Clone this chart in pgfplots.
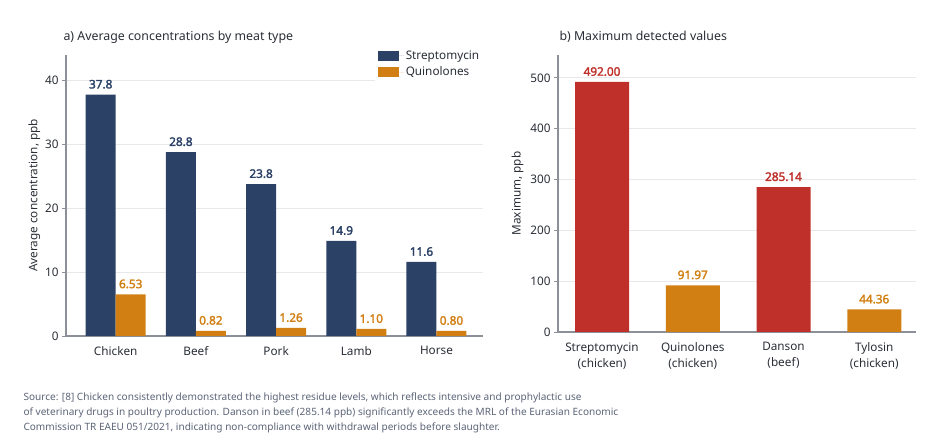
\documentclass[border=0pt]{standalone}
\usepackage{pgfplots}
\pgfplotsset{compat=1.18}
\usepackage{fontspec}
\setmainfont{Noto Sans}[AutoFakeBold=2.2]
\definecolor{navy}{HTML}{2B4166}
\definecolor{qorange}{HTML}{D17F12}
\definecolor{sred}{HTML}{C0302A}
\definecolor{spine}{HTML}{8C9099}
\definecolor{gridc}{HTML}{E8E8EA}
\definecolor{txt}{HTML}{2A2E36}
\definecolor{src}{HTML}{5B6477}
\pgfplotsset{
  mystyle/.style={
    scale only axis,
    axis x line*=bottom, axis y line*=left,
    axis line style={spine, line width=1.1bp, -},
    ymin=0,
    ymajorgrids, grid style={gridc, line width=0.8bp},
    major x tick style={draw=none},
    major y tick style={spine, line width=0.8bp},
    tick align=outside,
    major tick length=4bp,
    tick label style={font=\fontsize{11.8}{16}\selectfont, text=txt},
    xticklabel style={yshift=-3bp},
    /pgf/number format/assume math mode=true,
    ylabel style={font=\fontsize{11.8}{13}\selectfont, text=txt},
    xtick=data,
  },
  mylabels/.style 2 args={
    nodes near coords={\textbf{\pgfmathprintnumber[fixed,precision=#1,fixed zerofill]{\pgfplotspointmeta}}},
    every node near coord/.append style={text=#2, font=\fontsize{11.8}{13}\selectfont\bfseries, yshift=2.5bp},
  },
  mylegimg/.style={legend image code/.code={\fill[##1] (0bp,-5bp) rectangle (21bp,5bp); \path (0bp,0bp) -- (26bp,0bp);}},
}
\begin{document}
\begin{tikzpicture}
\useasboundingbox (0,0) rectangle (936bp,444bp);
\node[anchor=west, font=\fontsize{12.4}{14}\selectfont, text=txt] at (60bp,407bp) {a) Average concentrations by meat type};
\node[anchor=west, font=\fontsize{12.4}{14}\selectfont, text=txt] at (556bp,407bp) {b) Maximum detected values};
\begin{axis}[mystyle,
  at={(66bp,108bp)}, anchor=south west,
  width=417bp, height=281bp,
  xmin=-0.62, xmax=4.58, ymax=44,
  ytick={0,10,20,30,40},
  xticklabels={Chicken,Beef,Pork,Lamb,Horse},
  ylabel={Average concentration, ppb},
  ylabel style={yshift=-2bp},
  ybar=0pt, bar width=30bp,
  legend style={at={(0.74,1.03)}, anchor=north west, draw=none, fill=white,
    font=\fontsize{11.8}{13}\selectfont, text=txt, row sep=2bp,
    legend cell align=left},
]
\addplot[fill=navy, draw=none, mylabels={1}{navy}, mylegimg]
  coordinates {(0,37.8) (1,28.8) (2,23.8) (3,14.9) (4,11.6)};
\addplot[fill=qorange, draw=none, mylabels={2}{qorange}, mylegimg]
  coordinates {(0,6.53) (1,0.82) (2,1.26) (3,1.10) (4,0.80)};
\legend{Streptomycin, Quinolones}
\end{axis}
\begin{axis}[mystyle,
  at={(558bp,112bp)}, anchor=south west,
  width=358bp, height=277bp,
  xmin=-0.485, xmax=3.46, ymax=545,
  ytick={0,100,200,300,400,500},
  xtick={0,1,2,3},
  xticklabels={{Streptomycin\\(chicken)},{Quinolones\\(chicken)},{Danson\\(beef)},{Tylosin\\(chicken)}},
  xticklabel style={align=center},
  ylabel={Maximum, ppb},
  ybar, bar width=54bp, bar shift=0pt,
]
\addplot[fill=sred, draw=none, mylabels={2}{sred}]
  coordinates {(0,492.00) (2,285.14)};
\addplot[fill=qorange, draw=none, mylabels={2}{qorange}]
  coordinates {(1,91.97) (3,44.36)};
\end{axis}
\node[anchor=north west, align=left, text=src, font=\fontsize{10.1}{15.3}\selectfont] at (20bp,55bp)
 {Source: [8] Chicken consistently demonstrated the highest residue levels, which reflects intensive and prophylactic use\\
 of veterinary drugs in poultry production. Danson in beef (285.14 ppb) significantly exceeds the MRL of the Eurasian Economic\\
 Commission TR EAEU 051/2021, indicating non-compliance with withdrawal periods before slaughter.};
\end{tikzpicture}
\end{document}
